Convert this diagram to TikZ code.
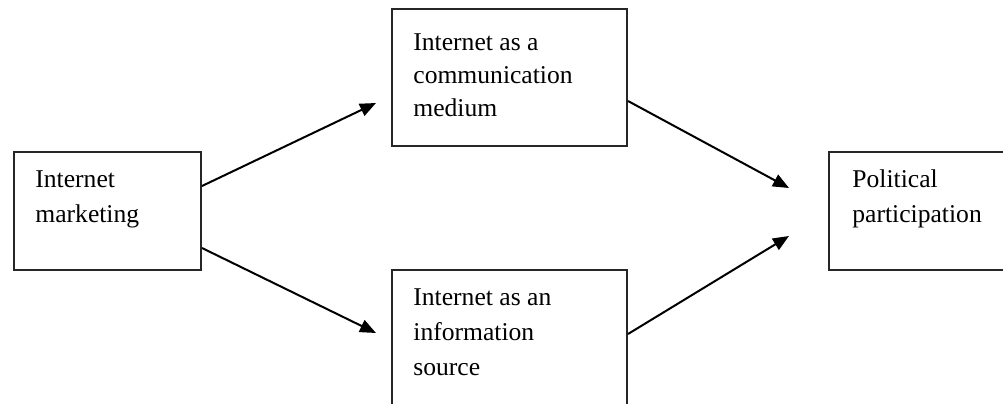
\documentclass[tikz,border=0pt]{standalone}
\usepackage{fontspec}
\setmainfont{Liberation Serif}
\usetikzlibrary{arrows.meta}

\begin{document}
\begin{tikzpicture}[x=0.5pt,y=-0.5pt,
    box/.style={draw=black!85, line width=1pt, inner sep=0pt},
    lbl/.style={anchor=base west, align=left, inner sep=0pt, font=\fontsize{12.8}{17.5}\selectfont},
    arr/.style={-{Triangle[length=8pt,width=6.5pt]}, line width=1pt}]
    \clip (0,0) rectangle (1003,403);
    \fill[white] (0,0) rectangle (1003,403);
    % boxes
    \node[box, minimum width=93.5pt, minimum height=59pt] (mkt) at (107.5,211) {};
    \node[box, minimum width=117.5pt, minimum height=68.5pt] (comm) at (509.5,77.5) {};
    \node[box, minimum width=117.5pt, minimum height=68.5pt] (info) at (509.5,338.5) {};
    \node[box, minimum width=93.5pt, minimum height=59pt] (pol) at (922.5,211) {};
    % labels (base = last line)
    \node[lbl] (mkttxt) at (35,222) {Internet\\marketing};
    \node[lbl, font=\fontsize{12.8}{16.5}\selectfont] (commtxt) at (413,116) {Internet as a\\communication\\medium};
    \node[lbl] (infotxt) at (413,375) {Internet as an\\information\\source};
    \node[lbl] (poltxt) at (852,222) {Political\\participation};
    % arrow tips
    \coordinate (tipcomm) at (376,103);
    \coordinate (tipinfo) at (376,333);
    \coordinate (tippolA) at (789,188);
    \coordinate (tippolB) at (789,236);
    % arrows
    \draw[arr] ([yshift=-17.5pt]mkt.north east) -- (tipcomm);
    \draw[arr] ([yshift=-48.5pt]mkt.north east) -- (tipinfo);
    \draw[arr] ([yshift=-46.5pt]comm.north east) -- (tippolA);
    \draw[arr] ([yshift=-32.5pt]info.north east) -- (tippolB);
\end{tikzpicture}
\end{document}
